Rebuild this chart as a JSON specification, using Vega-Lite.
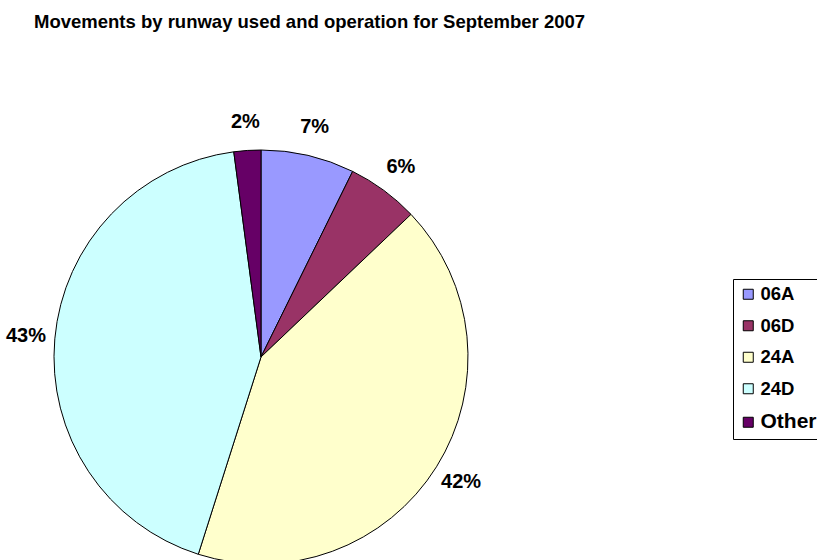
{
  "$schema": "https://vega.github.io/schema/vega-lite/v6.json",
  "width": 817,
  "height": 520,
  "padding": {"left": 0, "right": 0, "top": 40, "bottom": 0},
  "autosize": "none",
  "background": "white",
  "title": {
    "text": "Movements by runway used and operation for September 2007",
    "anchor": "start",
    "frame": "group",
    "dx": 34,
    "offset": 9,
    "font": "Liberation Sans",
    "fontSize": 18.5,
    "fontWeight": "bold",
    "color": "black"
  },
  "data": {
    "values": [
      {"runway": "06A", "share": 0.073},
      {"runway": "06D", "share": 0.056},
      {"runway": "24A", "share": 0.42},
      {"runway": "24D", "share": 0.43},
      {"runway": "Other", "share": 0.021}
    ]
  },
  "encoding": {
    "theta": {"field": "share", "type": "quantitative", "stack": true},
    "order": {"field": "runway", "sort": "ascending"}
  },
  "layer": [
    {
      "mark": {"type": "arc", "x": 261, "y": 317, "outerRadius": 207, "stroke": "black", "strokeWidth": 1},
      "encoding": {
        "color": {
          "field": "runway",
          "type": "nominal",
          "scale": {
            "domain": ["06A", "06D", "24A", "24D", "Other"],
            "range": ["#9999FF", "#993366", "#FFFFCC", "#CCFFFF", "#660066"]
          },
          "legend": {
            "orient": "none",
            "legendX": 733,
            "legendY": 239,
            "title": null,
            "strokeColor": "black",
            "fillColor": "white",
            "padding": 6,
            "rowPadding": 12.5,
            "symbolType": "square",
            "symbolSize": 100,
            "symbolStrokeColor": "black",
            "symbolStrokeWidth": 1,
            "symbolOpacity": 1,
            "labelFont": "Liberation Sans",
            "labelFontWeight": "bold",
            "labelFontSize": 18.5,
            "labelColor": "black",
            "labelOffset": 3,
            "encode": {
              "labels": {"update": {"fontSize": {"signal": "datum.label === 'Other' ? 21 : 18.5"}}},
              "symbols": {"update": {"fillOpacity": {"value": 1}}}
            }
          }
        }
      }
    },
    {
      "mark": {"type": "text", "x": 261, "y": 317, "radius": 236, "font": "Liberation Sans", "fontSize": 20, "fontWeight": "bold", "fill": "black"},
      "encoding": {
        "text": {"field": "share", "type": "quantitative", "format": ".0%"},
        "detail": {"field": "runway", "type": "nominal"}
      }
    }
  ]
}
